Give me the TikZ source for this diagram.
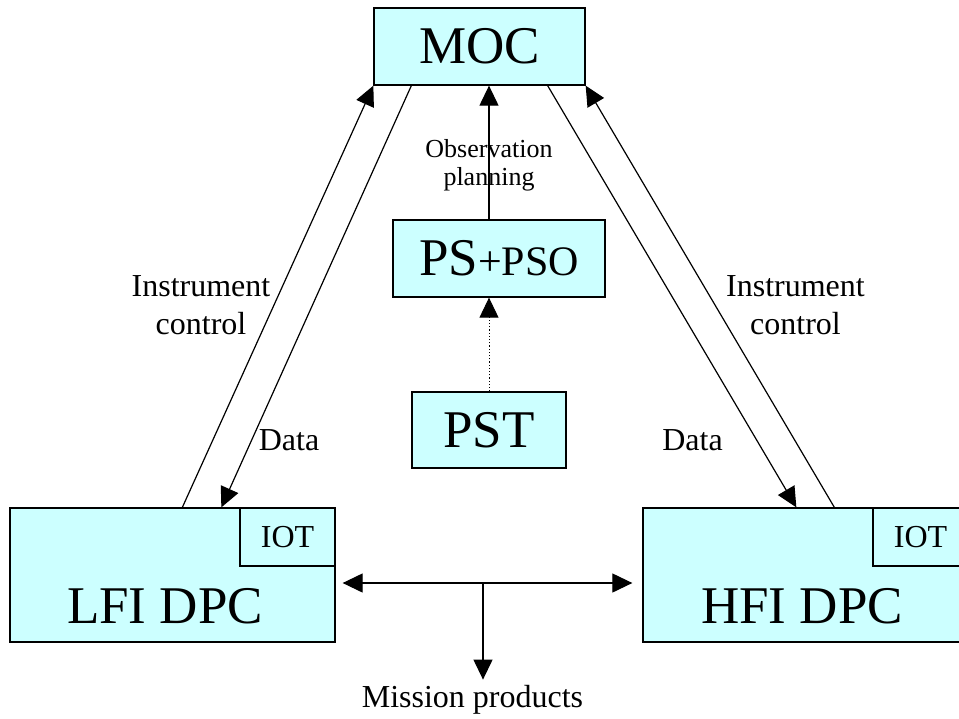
\documentclass[tikz,border=0pt]{standalone}
\usepackage{fontspec}
\setmainfont{Liberation Serif}
\usetikzlibrary{arrows.meta}
\definecolor{dpccyan}{HTML}{CCFFFF}

\begin{document}
\begin{tikzpicture}[x=1pt,y=1pt,
  box/.style={draw=black,fill=dpccyan,line width=1.3pt,inner sep=0pt},
  flow/.style={line width=1.2pt,-{Triangle[length=20pt,width=19pt]}},
  twoway/.style={line width=1.2pt,{Triangle[length=20pt,width=19pt]}-{Triangle[length=20pt,width=19pt]}},
  bigtext/.style={font=\fontsize{53}{60}\selectfont,inner sep=0pt},
  midtext/.style={font=\fontsize{32}{38}\selectfont,inner sep=0pt},
  smalltext/.style={font=\fontsize{26}{28}\selectfont,inner sep=0pt}]
\useasboundingbox (0,0) rectangle (959,-718);
\node [box,bigtext,minimum width=211,minimum height=77] (moc) at (479.5,-46.5) {MOC};
\node [box,bigtext,minimum width=212,minimum height=77] (ps) at (499,-258.5) {PS{\fontsize{42}{50}\selectfont+PSO}};
\node [box,bigtext,minimum width=154,minimum height=76] (pst) at (489,-430) {PST};
\node [box,minimum width=325,minimum height=134] (lfi) at (172.5,-575) {};
\node [box,midtext,minimum width=95,minimum height=58,anchor=north east] (lfiiot) at (lfi.north east) {IOT};
\node [bigtext,anchor=base] (lfilabel) at (165,-623) {LFI DPC};
\node [box,minimum width=325,minimum height=134] (hfi) at (805.5,-575) {};
\node [box,midtext,minimum width=95,minimum height=58,anchor=north east] (hfiiot) at (hfi.north east) {IOT};
\node [bigtext,anchor=base] (hfilabel) at (802,-623) {HFI DPC};
\draw [flow] ([xshift=173]lfi.north west) -- (moc.south west);
\draw [flow] ([xshift=38]moc.south west) -- ([xshift=212]lfi.north west);
\draw [flow] ([xshift=-38]moc.south east) -- ([xshift=154]hfi.north west);
\draw [flow] ([xshift=192]hfi.north west) -- (moc.south east);
\draw [flow] (pst.north |- ps.north) -- (pst.north |- moc.south);
\draw [flow,dotted,line width=0.9pt] (pst.north) -- (pst.north |- ps.south);
\node [smalltext,align=center] (obs) at (489,-165) {Observation\\planning};
\node [midtext,align=center] (lctrl) at (201,-305) {Instrument\\control};
\node [midtext,align=center] (rctrl) at (795.5,-305) {Instrument\\control};
\node [midtext,anchor=base] (ldata) at (289,-450) {Data};
\node [midtext,anchor=base] (rdata) at (692.5,-450) {Data};
\coordinate (junc) at (483,-583);
\draw [twoway] ([xshift=7,yshift=-8]lfi.east) -- ([xshift=-10,yshift=-8]hfi.west);
\node [midtext,anchor=base] (mission) at (472.5,-707) {Mission products};
\draw [flow,shorten >=5pt] (junc) -- (junc |- mission.north);
\end{tikzpicture}
\end{document}
